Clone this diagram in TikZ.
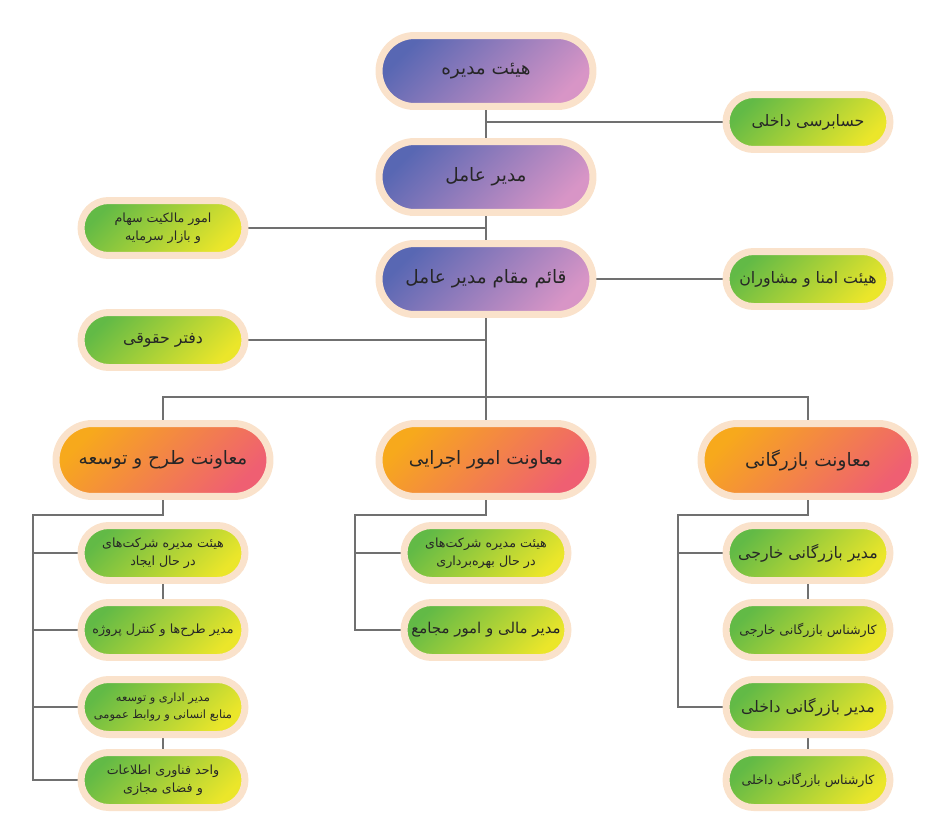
\documentclass[tikz,border=0pt]{standalone}
\usepackage{fontspec}
\usetikzlibrary{backgrounds}
\newfontfamily\fa[Script=Arabic]{DejaVu Sans}
\TeXXeTstate=1
\newcommand{\rl}[1]{\beginR #1\endR}

\definecolor{peach}{HTML}{FAE2CB}
\definecolor{purA}{HTML}{5867B3}
\definecolor{purB}{HTML}{D895C6}
\definecolor{grnA}{HTML}{62BA46}
\definecolor{grnB}{HTML}{EBE62A}
\definecolor{orgA}{HTML}{F7A91C}
\definecolor{orgB}{HTML}{EF5F72}
\definecolor{wire}{HTML}{707070}

\tikzset{
 box/.style={rectangle, draw=peach, line width=0.14cm, inner sep=1pt,
   text=black!85, align=center, font=\fa},
 purbox/.style={box, left color=purA, right color=purB, shading angle=45,
   minimum width=4.28cm, minimum height=1.42cm, rounded corners=0.71cm,
   font=\fa\fontsize{10.5}{13}\selectfont},
 orgbox/.style={box, left color=orgA, right color=orgB, shading angle=45,
   minimum width=4.28cm, minimum height=1.46cm, rounded corners=0.73cm,
   font=\fa\fontsize{10.5}{13}\selectfont},
 grnbox/.style={box, left color=grnA, right color=grnB, shading angle=45,
   minimum width=3.28cm, minimum height=1.1cm, rounded corners=0.55cm,
   font=\fa\fontsize{9}{12}\selectfont},
 small/.style={font=\fa\fontsize{7.2}{10}\selectfont},
 tiny/.style={font=\fa\fontsize{6.5}{10}\selectfont},
 wires/.style={draw=wire, line width=0.6pt}
}

\begin{document}
\begin{tikzpicture}[x=0.02cm, y=-0.02cm]
 \useasboundingbox (0,0) rectangle (938,839);
 % top levels
 \begin{scope}[every node/.style={purbox}]
  \node (board) at (486,71) {\rl{هیئت مدیره}};
  \node (ceo) at (486,177) {\rl{مدیر عامل}};
  \node (deputy) at (486,279) {\rl{قائم مقام مدیر عامل}};
 \end{scope}
 \begin{scope}[every node/.style={grnbox}]
  \node (audit) at (808,122) {\rl{حسابرسی داخلی}};
  \node[small] (shares) at (163,228) {\rl{امور مالکیت سهام}\\\rl{و بازار سرمایه}};
  \node (trust) at (808,279) {\rl{هیئت امنا و مشاوران}};
  \node (legal) at (163,340) {\rl{دفتر حقوقی}};
 \end{scope}
 % deputies
 \begin{scope}[every node/.style={orgbox}]
  \node (plan) at (163,460) {\rl{معاونت طرح و توسعه}};
  \node (exec) at (486,460) {\rl{معاونت امور اجرایی}};
  \node (trade) at (808,460) {\rl{معاونت بازرگانی}};
 \end{scope}
 \begin{scope}[every node/.style={grnbox, small}]
  \node (p1) at (163,553) {\rl{هیئت مدیره شرکت‌های}\\\rl{در حال ایجاد}};
  \node (p2) at (163,630) {\rl{مدیر طرح‌ها و کنترل پروژه}};
  \node[tiny] (p3) at (163,707) {\rl{مدیر اداری و توسعه}\\\rl{منابع انسانی و روابط عمومی}};
  \node (p4) at (163,780) {\rl{واحد فناوری اطلاعات}\\\rl{و فضای مجازی}};
  \node (e1) at (486,553) {\rl{هیئت مدیره شرکت‌های}\\\rl{در حال بهره‌برداری}};
  \node (t2) at (808,630) {\rl{کارشناس بازرگانی خارجی}};
  \node (t4) at (808,780) {\rl{کارشناس بازرگانی داخلی}};
 \end{scope}
 \begin{scope}[every node/.style={grnbox}]
  \node[font=\fa\fontsize{8.5}{12}\selectfont] (e2) at (486,630) {\rl{مدیر مالی و امور مجامع}};
  \node (t1) at (808,553) {\rl{مدیر بازرگانی خارجی}};
  \node (t3) at (808,707) {\rl{مدیر بازرگانی داخلی}};
 \end{scope}
 \coordinate (j1) at (486,122);
 \coordinate (j2) at (486,228);
 \coordinate (j3) at (486,340);
 \coordinate (bus) at (486,397);
 \coordinate (pc) at (33,515);
 \coordinate (ec) at (355,515);
 \coordinate (tc) at (678,515);
 \begin{scope}[on background layer]
  \path[wires] (board) edge (ceo) (ceo) edge (deputy) (deputy) edge (exec);
  \path[wires] (j1) edge (audit) (j2) edge (shares) (j3) edge (legal)
   (deputy) edge (trust);
  \draw[wires] (plan.north) |- (bus) -| (trade.north);
  % columns
  \draw[wires] (plan.south) |- (pc) |- (p4.west);
  \path[wires] (pc |- p1) edge (p1) (pc |- p2) edge (p2) (pc |- p3) edge (p3)
   (p1) edge (p2) (p3) edge (p4);
  \draw[wires] (exec.south) |- (ec) |- (e2.west);
  \path[wires] (ec |- e1) edge (e1);
  \draw[wires] (trade.south) |- (tc) |- (t3.west);
  \path[wires] (tc |- t1) edge (t1) (t1) edge (t2) (t3) edge (t4);
 \end{scope}
\end{tikzpicture}
\end{document}
